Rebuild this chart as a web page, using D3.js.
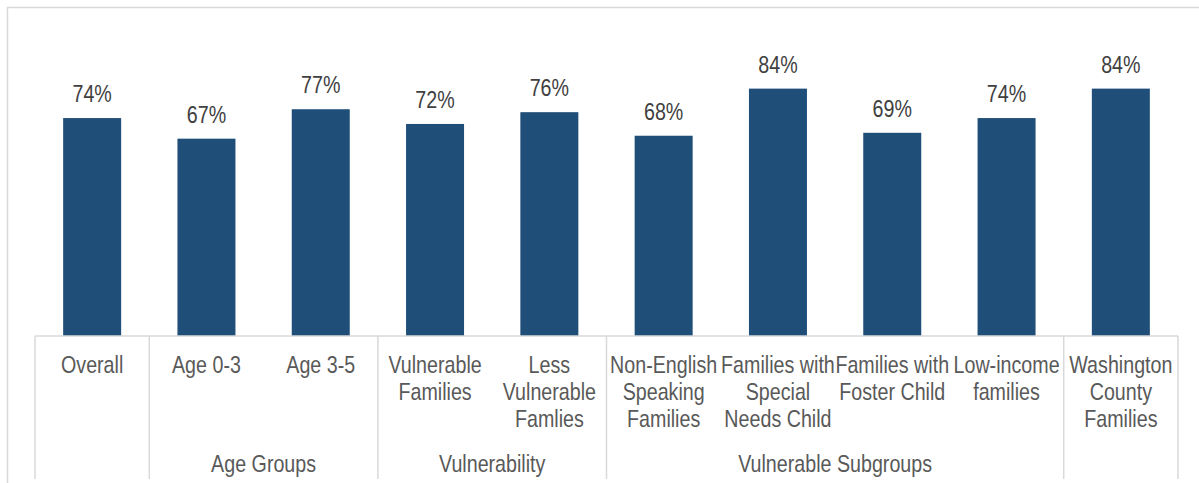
<!DOCTYPE html>
<html>
<head>
<meta charset="utf-8">
<script src="https://cdn.jsdelivr.net/npm/d3@7"></script>
<style>
  html, body { margin: 0; padding: 0; background: #fff; }
  svg { display: block; }
  text { font-family: "Liberation Sans", Arial, sans-serif; }
</style>
</head>
<body>
<svg id="chart" width="1199" height="483"></svg>
<script>
// ---- data ----
const categories = [
  "Overall", "Age 0-3", "Age 3-5", "Vulnerable Families", "Less Vulnerable Famlies",
  "Non-English Speaking Families", "Families with Special Needs Child",
  "Families with Foster Child", "Low-income families", "Washington County Families"
];
const categoryLines = [
  ["Overall"], ["Age 0-3"], ["Age 3-5"], ["Vulnerable", "Families"], ["Less", "Vulnerable", "Famlies"],
  ["Non-English", "Speaking", "Families"], ["Families with", "Special", "Needs Child"],
  ["Families with", "Foster Child"], ["Low-income", "families"], ["Washington", "County", "Families"]
];
const values = [74, 67, 77, 72, 76, 68, 84, 69, 74, 84];
const groupNames = ["", "Age Groups", "Vulnerability", "Vulnerable Subgroups", ""];
const groupSizes = [1, 2, 2, 4, 1];

// ---- layout ----
const svg = d3.select("#chart");
const left = 35, right = 1178, axisY = 336, topY = 41.5;
const fontScaleX = 0.82; // narrow face
const pad = 0.4926;

const x = d3.scaleBand().domain(categories).range([left, right])
  .paddingInner(pad).paddingOuter(pad / 2);
const y = d3.scaleLinear().domain([0, 100]).range([axisY, topY]);

// outer frame
svg.append("path")
  .attr("d", "M7.5,483 L7.5,7.5 L1199,7.5")
  .attr("fill", "none").attr("stroke", "#d9d9d9").attr("stroke-width", 1.5);

// bars
svg.selectAll("rect.bar").data(values).join("rect")
  .attr("class", "bar")
  .attr("x", (d, i) => x(categories[i]))
  .attr("width", x.bandwidth())
  .attr("y", d => y(d))
  .attr("height", d => axisY - y(d))
  .attr("fill", "#1f4e79");

// value labels
svg.selectAll("text.val").data(values).join("text")
  .attr("class", "val")
  .attr("transform", (d, i) => `translate(${x(categories[i]) + x.bandwidth() / 2},${y(d) - 16}) scale(${fontScaleX},1)`)
  .attr("text-anchor", "middle")
  .attr("font-size", 24)
  .attr("fill", "#404040")
  .text(d => d + "%");

// axis line
svg.append("line")
  .attr("x1", left).attr("x2", right).attr("y1", axisY).attr("y2", axisY)
  .attr("stroke", "#d9d9d9").attr("stroke-width", 1.5);

// group separators
const step = x.step();
let idx = 0;
const bounds = [0];
groupSizes.forEach(s => { idx += s; bounds.push(idx); });
svg.selectAll("line.sep").data(bounds).join("line")
  .attr("class", "sep")
  .attr("x1", b => left + b * step).attr("x2", b => left + b * step)
  .attr("y1", axisY).attr("y2", 479)
  .attr("stroke", "#d9d9d9").attr("stroke-width", 1.5);

// category labels
categoryLines.forEach((lines, i) => {
  const cx = x(categories[i]) + x.bandwidth() / 2;
  lines.forEach((ln, j) => {
    svg.append("text")
      .attr("transform", `translate(${cx},${373 + j * 27}) scale(${fontScaleX},1)`)
      .attr("text-anchor", "middle")
      .attr("font-size", 24)
      .attr("fill", "#595959")
      .text(ln);
  });
});

// group labels
groupNames.forEach((g, gi) => {
  if (!g) return;
  const cx = left + (bounds[gi] + bounds[gi + 1]) / 2 * step;
  svg.append("text")
    .attr("transform", `translate(${cx},472) scale(${fontScaleX},1)`)
    .attr("text-anchor", "middle")
    .attr("font-size", 24)
    .attr("fill", "#595959")
    .text(g);
});
</script>
</body>
</html>
